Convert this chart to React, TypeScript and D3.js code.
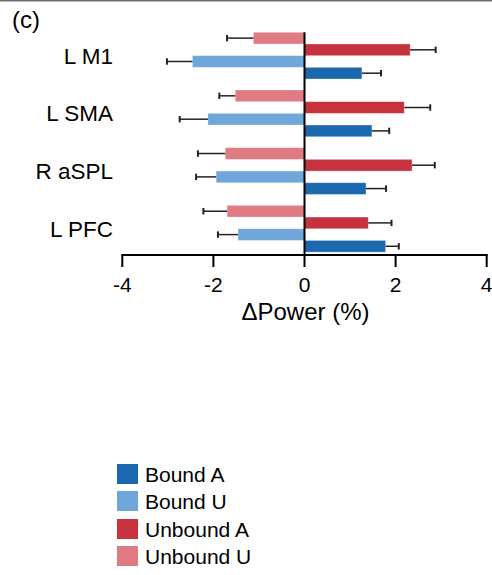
import React from "react";
import * as d3 from "d3";

const categories = ["L M1", "L SMA", "R aSPL", "L PFC"];
const seriesNames = ["Unbound U", "Unbound A", "Bound U", "Bound A"];
const legendOrder = ["Bound A", "Bound U", "Unbound A", "Unbound U"];
const unboundU = [-1.12, -1.52, -1.74, -1.70];
const unboundUErr = [0.58, 0.35, 0.60, 0.52];
const unboundA = [2.32, 2.19, 2.36, 1.40];
const unboundAErr = [0.56, 0.57, 0.50, 0.51];
const boundU = [-2.46, -2.12, -1.94, -1.46];
const boundUErr = [0.56, 0.62, 0.44, 0.44];
const boundA = [1.26, 1.48, 1.35, 1.78];
const boundAErr = [0.42, 0.38, 0.44, 0.29];
const tickValues = [-4, -2, 0, 2, 4];

const colors: Record<string, string> = {
  "Bound A": "#1c68ae",
  "Bound U": "#6fa7da",
  "Unbound A": "#c6323d",
  "Unbound U": "#e07b84",
};

const values: Record<string, number[]> = {
  "Unbound U": unboundU,
  "Unbound A": unboundA,
  "Bound U": boundU,
  "Bound A": boundA,
};
const errors: Record<string, number[]> = {
  "Unbound U": unboundUErr,
  "Unbound A": unboundAErr,
  "Bound U": boundUErr,
  "Bound A": boundAErr,
};

const FONT = "'Liberation Sans', Arial, Helvetica, sans-serif";

export default function App() {
  const W = 492;
  const H = 575;
  const x = d3.scaleLinear().domain([-4, 4]).range([122.3, 486.7]);
  const y0 = d3
    .scaleBand<string>()
    .domain(categories)
    .range([26.8, 257.6])
    .paddingInner(0.19)
    .paddingOuter(0.095);
  const y1 = d3
    .scaleBand<string>()
    .domain(seriesNames)
    .range([0, y0.bandwidth()]);
  const axisY = 255;
  const zeroX = x(0);

  return (
    <svg
      width={W}
      height={H}
      viewBox={`0 0 ${W} ${H}`}
      style={{ position: "absolute", left: 0, top: 0, background: "#fff" }}
      fontFamily={FONT}
    >
      <rect x={0} y={0} width={W} height={H} fill="#fff" />
      <line x1={0} x2={W} y1={0.75} y2={0.75} stroke="#6e6e6e" strokeWidth={1.5} />
      <text x={12} y={28} fontSize={24} fill="#000">(c)</text>

      {categories.map((cat, ci) => {
        const gy = y0(cat)!;
        return (
          <g key={cat}>
            <text
              x={113}
              y={gy + y0.bandwidth() / 2 + 8}
              fontSize={22.5}
              textAnchor="end"
              fill="#000"
            >
              {cat}
            </text>
            {seriesNames.map((s) => {
              const v = values[s][ci];
              const e = errors[s][ci];
              const by = gy + y1(s)!;
              const bh = y1.bandwidth();
              const x0 = Math.min(x(0), x(v));
              const w = Math.abs(x(v) - x(0));
              const end = v >= 0 ? v + e : v - e;
              const cy = by + bh / 2;
              return (
                <g key={s}>
                  <rect x={x0} y={by} width={w} height={bh} fill={colors[s]} stroke="#ffffff" strokeOpacity={0.35} strokeWidth={0.8} />
                  <line x1={x(v)} x2={x(end)} y1={cy} y2={cy} stroke="#222" strokeWidth={1.5} />
                  <line x1={x(end)} x2={x(end)} y1={cy - 3.2} y2={cy + 3.2} stroke="#222" strokeWidth={2} />
                </g>
              );
            })}
          </g>
        );
      })}

      <line x1={zeroX} x2={zeroX} y1={y0(categories[0])!} y2={axisY} stroke="#000" strokeWidth={2} />
      <line x1={x(-4) - 1} x2={x(4) + 1} y1={axisY} y2={axisY} stroke="#000" strokeWidth={2} />
      {tickValues.map((t) => (
        <g key={t}>
          <line x1={x(t)} x2={x(t)} y1={axisY} y2={axisY + 12} stroke="#000" strokeWidth={2} />
          <text x={x(t)} y={292} fontSize={21} textAnchor="middle" fill="#000">
            {t < 0 ? `-${Math.abs(t)}` : `${t}`}
          </text>
        </g>
      ))}
      <text x={zeroX + 1} y={320} fontSize={24} textAnchor="middle" fill="#000">
        ΔPower (%)
      </text>

      {legendOrder.map((s, i) => {
        const ly = [464, 491, 519, 546][i];
        return (
          <g key={s}>
            <rect x={117} y={ly} width={21} height={20} fill={colors[s]} />
            <text x={145} y={ly + 10 + 7.5} fontSize={21} fill="#000">
              {s}
            </text>
          </g>
        );
      })}
    </svg>
  );
}
